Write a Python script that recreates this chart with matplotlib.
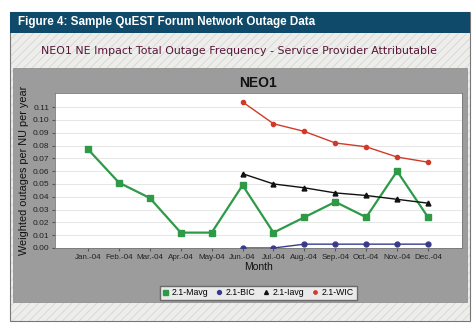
import matplotlib.pyplot as plt
from matplotlib.patches import Rectangle

# -------------------------
# Data
# -------------------------
months = ["Jan.-04", "Feb.-04", "Mar.-04", "Apr.-04", "May-04", "Jun.-04",
          "Jul.-04", "Aug.-04", "Sep.-04", "Oct.-04", "Nov.-04", "Dec.-04"]
mavg = [0.077, 0.051, 0.039, 0.012, 0.012, 0.049, 0.012, 0.024, 0.036, 0.024, 0.060, 0.024]
# the other series start in June
late_idx = list(range(5, 12))
bic = [0.000, 0.000, 0.003, 0.003, 0.003, 0.003, 0.003]
iavg = [0.058, 0.050, 0.047, 0.043, 0.041, 0.038, 0.035]
wic = [0.114, 0.097, 0.091, 0.082, 0.079, 0.071, 0.067]
yticks = [i / 100 for i in range(12)]

plt.rcParams["hatch.linewidth"] = 0.5
plt.rcParams["font.family"] = ["Liberation Sans", "DejaVu Sans"]

# -------------------------
# Figure
# -------------------------
W, H = 477, 331
fig = plt.figure(figsize=(W / 100, H / 100), dpi=100)
fig.patch.set_facecolor("white")


def px(x, y, w, h):
    # pixel box (top-left origin) -> figure fraction
    return [x / W, 1 - (y + h) / H, w / W, h / H]


bg = fig.add_axes([0, 0, 1, 1])
bg.set_xlim(0, W)
bg.set_ylim(H, 0)
bg.axis("off")

# outer textured frame
bg.add_patch(Rectangle((10, 12), 460, 309, facecolor="#ededeb", edgecolor="#d2d2ce",
                       lw=0, hatch="////", zorder=0))
bg.add_patch(Rectangle((10, 12), 460, 309, facecolor="none", edgecolor="#777777",
                       lw=0.8, zorder=0.5))
# header bar
bg.add_patch(Rectangle((10, 12), 460, 21, facecolor="#0f4a6b", edgecolor="none", zorder=1))
bg.text(18, 22.5, "Figure 4: Sample QuEST Forum Network Outage Data", color="white",
        fontsize=8.4, fontweight="bold", va="center", ha="left", zorder=2)
bg.text(239, 51, "NEO1 NE Impact Total Outage Frequency - Service Provider Attributable",
        color="#5a1538", fontsize=7.9, family="DejaVu Sans", va="center", ha="center",
        zorder=2)
# gray chart panel
bg.add_patch(Rectangle((13, 68), 454, 234, facecolor="#9c9c9c", edgecolor="#888888",
                       lw=0.5, zorder=1))

# -------------------------
# Chart
# -------------------------
ax = fig.add_axes(px(55, 93, 407, 155))
ax.set_facecolor("white")
x_all = list(range(len(months)))

ax.plot(x_all, mavg, color="#2e9a48", lw=1.6, marker="s", ms=4.5, label="2.1-Mavg", zorder=3)
ax.plot(late_idx, bic, color="#3a3a8c", lw=1.0, marker="o", ms=3.5, label="2.1-BIC", zorder=3)
ax.plot(late_idx, iavg, color="#111111", lw=1.0, marker="^", ms=3.5, label="2.1-Iavg", zorder=3)
ax.plot(late_idx, wic, color="#d03a2a", lw=1.0, marker="o", ms=3, label="2.1-WIC", zorder=3)

ax.set_xlim(-1.07, 12.1)
ax.set_ylim(0, 0.121)
ax.set_yticks(yticks)
ax.set_yticklabels([f"{v:.2f}" for v in yticks], fontsize=6, color="#222222")
ax.set_xticks(x_all)
ax.set_xticklabels(months, fontsize=5.8, color="#222222")
ax.tick_params(length=2, pad=2, color="#555555")
ax.grid(axis="y", color="#e2e2e2", lw=0.6)
ax.set_axisbelow(True)
for s in ax.spines.values():
    s.set_color("#777777")
    s.set_linewidth(0.6)

ax.set_title("NEO1", fontsize=10, fontweight="bold", pad=4, color="#111111")
ax.set_xlabel("Month", fontsize=7.5, labelpad=1, color="#111111")
ax.set_ylabel("Weighted outages per NU per year", fontsize=7.8, labelpad=3, color="#111111")

leg = ax.legend(loc="upper center", bbox_to_anchor=(0.5, -0.215), ncol=4, fontsize=6.3,
                frameon=True, fancybox=False, edgecolor="#555555", borderpad=0.3,
                handlelength=0.5, handletextpad=0.5, columnspacing=1.0, markerscale=0.8)
for h in leg.legend_handles:
    h.set_linestyle("none")

fig.savefig("out.png", dpi=100)
